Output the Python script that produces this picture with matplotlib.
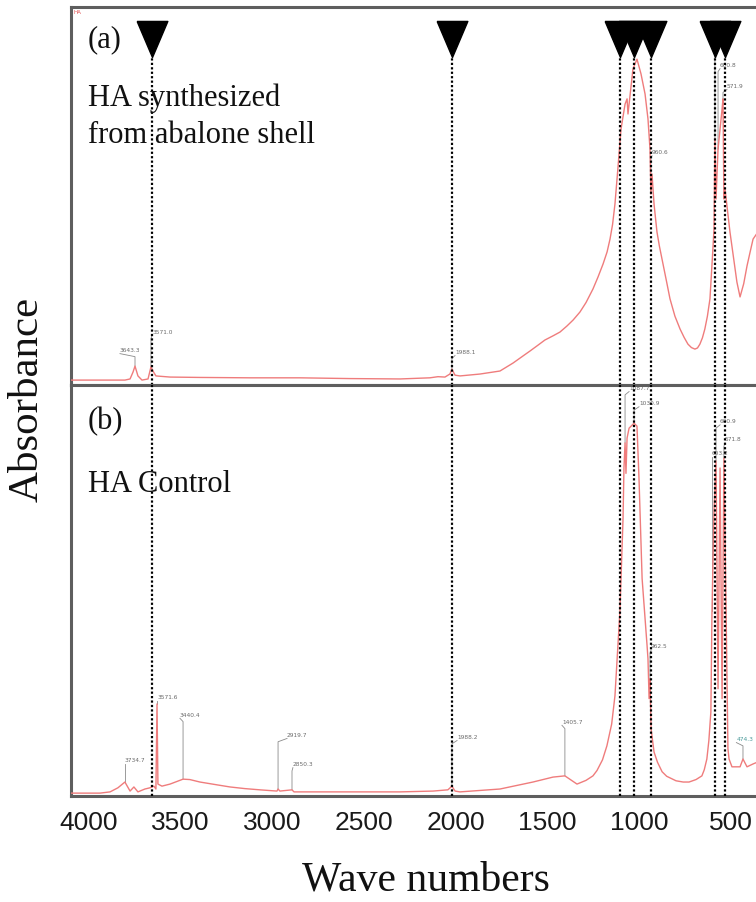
import numpy as np
import matplotlib
matplotlib.use("Agg")
import matplotlib.pyplot as plt

# spectrum (a): HA synthesized from abalone shell  (wavenumber, absorbance a.u.)
wave_a = [4098, 3940, 3804, 3776, 3760, 3749, 3733, 3711, 3678, 3662, 3651, 3635,
          3558, 3395, 3122, 2850, 2577, 2304, 2141, 2097, 2059, 2032, 2021, 2004,
          1977, 1868, 1759, 1688, 1630, 1595, 1550, 1514, 1470, 1432, 1394, 1360, 1323,
          1290, 1252, 1225, 1197, 1175, 1159, 1145, 1132, 1115, 1099, 1077, 1066, 1061,
          1055, 1034, 1012, 990, 968, 952, 941, 936, 930, 919, 903, 890, 870, 850, 832,
          805, 777, 755, 734, 715, 696, 682, 669, 655, 642, 628, 614, 598, 592, 587,
          581, 570, 548, 543, 538, 532, 505, 467, 450, 430, 412, 395, 379, 341]
abs_a = [0.013, 0.013, 0.013, 0.016, 0.034, 0.050, 0.024, 0.013, 0.016, 0.048, 0.037, 0.024,
         0.021, 0.020, 0.019, 0.019, 0.017, 0.016, 0.019, 0.022, 0.021, 0.029, 0.042, 0.026,
         0.024, 0.029, 0.037, 0.058, 0.078, 0.090, 0.106, 0.119, 0.130, 0.140, 0.156, 0.172, 0.193,
         0.218, 0.254, 0.285, 0.320, 0.352, 0.386, 0.425, 0.479, 0.579, 0.677, 0.743, 0.757, 0.717,
         0.743, 0.836, 0.862, 0.823, 0.770, 0.704, 0.624, 0.505, 0.558, 0.479, 0.405, 0.368, 0.320, 0.272, 0.228,
         0.182, 0.148, 0.126, 0.108, 0.099, 0.095, 0.098, 0.108, 0.125, 0.148, 0.182, 0.228, 0.360, 0.413, 0.651,
         0.492, 0.624, 0.730, 0.757, 0.492, 0.519, 0.405, 0.272, 0.233, 0.268, 0.315, 0.352, 0.386, 0.413]

# spectrum (b): HA control
wave_b = [4098, 3940, 3885, 3842, 3804, 3776, 3755, 3733, 3695, 3667, 3646, 3635, 3629,
          3624, 3602, 3558, 3487, 3450, 3395, 3300, 3231, 3150, 3068, 2975, 2969, 2959, 2893,
          2882, 2740, 2304, 2124, 2043, 2021, 2004, 1977, 1759, 1579, 1470, 1405, 1339, 1290,
          1252, 1230, 1200, 1176, 1150, 1132, 1105, 1088, 1083, 1077, 1072, 1066, 1055, 1028,
          1012, 1001, 984, 957, 952, 946, 941, 935, 919, 900, 875, 850, 799, 760, 728, 690,
          658, 645, 631, 620, 609, 603, 592, 581, 570, 559, 548, 538, 527, 516, 510, 494, 450,
          434, 412, 379, 341]
abs_b = [0.007, 0.007, 0.010, 0.020, 0.034, 0.012, 0.022, 0.010, 0.017, 0.020, 0.024, 0.017, 0.224,
         0.029, 0.024, 0.029, 0.041, 0.040, 0.034, 0.027, 0.022, 0.018, 0.015, 0.012, 0.017, 0.012, 0.015,
         0.010, 0.010, 0.010, 0.012, 0.015, 0.024, 0.012, 0.010, 0.017, 0.034, 0.046, 0.049, 0.029, 0.038,
         0.049, 0.062, 0.088, 0.122, 0.175, 0.244, 0.449, 0.675, 0.798, 0.859, 0.785, 0.871, 0.895, 0.907,
         0.900, 0.773, 0.529, 0.366, 0.334, 0.237, 0.285, 0.163, 0.107, 0.082, 0.059, 0.048, 0.037, 0.034,
         0.034, 0.040, 0.049, 0.064, 0.090, 0.135, 0.205, 0.449, 0.693, 0.815, 0.261, 0.798, 0.237, 0.822,
         0.480, 0.115, 0.090, 0.071, 0.071, 0.090, 0.071, 0.078, 0.085]

# marked bands (triangles + dotted guides)
marks = [3656, 2021, 1105, 1028, 936, 587, 532]

# peak picks: label, label x, label y, leader from (x, y)
picks_a = [("3643.3", 3831, 0.087, 3749, 0.050),
           ("3571.0", 3656, 0.135, 3662, 0.048),
           ("1988.1", 2004, 0.082, 2021, 0.042),
           ("960.6", 930, 0.611, 936, 0.505),
           ("603.6", 598, 0.905, 587, 0.651),
           ("600.8", 559, 0.841, 570, 0.624),
           ("571.9", 521, 0.786, 543, 0.757)]
picks_b = [("3734.7", 3804, 0.083, 3804, 0.034),
           ("3571.6", 3629, 0.235, 3629, 0.224),
           ("3440.4", 3504, 0.193, 3487, 0.041),
           ("2919.7", 2920, 0.144, 2969, 0.017),
           ("2850.3", 2888, 0.073, 2893, 0.015),
           ("1988.2", 1993, 0.139, 2021, 0.024),
           ("1405.7", 1421, 0.176, 1405, 0.049),
           ("1087.7", 1055, 0.988, 1077, 0.859),
           ("1030.9", 1001, 0.951, 1028, 0.907),
           ("962.5", 935, 0.359, 941, 0.285),
           ("603.2", 603, 0.829, 603, 0.449),
           ("600.9", 559, 0.907, 581, 0.815),
           ("571.8", 532, 0.863, 538, 0.822),
           ("474.3", 470, 0.134, 434, 0.090)]

ticks = [4000, 3500, 3000, 2500, 2000, 1500, 1000, 500]

W, H = 756, 903
fig = plt.figure(figsize=(W / 100, H / 100), dpi=100)
left = 71 / W
ax_a = fig.add_axes([left, 1 - 386 / H, 1 - left, 378 / H])
ax_b = fig.add_axes([left, 1 - 797 / H, 1 - left, 411 / H])

red = "#ef7c7c"
frame = "#5e5e5e"

for ax, wv, ab, picks in [(ax_a, wave_a, abs_a, picks_a), (ax_b, wave_b, abs_b, picks_b)]:
    ax.plot(wv, ab, color=red, lw=1.0, zorder=3)
    ax.set_xlim(4098, 363)
    ax.set_ylim(0, 1)
    ax.set_yticks([])
    for s in ["left", "top", "bottom"]:
        ax.spines[s].set_color(frame)
        ax.spines[s].set_linewidth(2.2)
    ax.spines["right"].set_visible(False)
    for lab, lx, ly, px, py in picks:
        ax.plot([px, px, lx], [py, ly - 0.012, ly - 0.004], color="#8a8a8a", lw=0.6, zorder=2)
        ax.text(lx, ly, lab, fontsize=4.2, color="#6a6a6a" if lab != "474.3" else "#4a9a9a",
                ha="left", va="bottom", family="DejaVu Sans", zorder=2)

# dotted guides through both panels
ax_a.vlines(marks, 0, 0.868, transform=ax_a.get_xaxis_transform(),
            colors="k", linestyles=(0, (1, 1)), lw=1.6, zorder=4)
ax_b.vlines(marks, 0, 1, transform=ax_b.get_xaxis_transform(),
            colors="k", linestyles=(0, (1, 1)), lw=1.6, zorder=4)

# triangles
tri = [(-0.85, 1), (0.85, 1), (0, -1), (-0.85, 1)]
ax_a.plot(marks, [0.915] * len(marks), ls="none", marker=tri, ms=26, color="k",
          transform=ax_a.get_xaxis_transform(), zorder=6, clip_on=False)

ax_a.set_xticks([])
ax_b.set_xticks(ticks)
ax_b.set_xticklabels([str(t) for t in ticks], fontsize=19, family="Liberation Sans", color="#1a1a1a")
ax_b.tick_params(axis="x", length=0, pad=10)

serif = "Liberation Serif"
fig.text(73 / W, 1 - 12 / H, "HA", fontsize=4, color="#e05050", va="center", family="DejaVu Sans")
fig.text(88 / W, 1 - 40 / H, "(a)", fontsize=22, family=serif, va="center", color="#111")
fig.text(88 / W, 1 - 106 / H, "HA synthesized", fontsize=22, family=serif, va="baseline", color="#111")
fig.text(88 / W, 1 - 143 / H, "from abalone shell", fontsize=22, family=serif, va="baseline", color="#111")
fig.text(88 / W, 1 - 422 / H, "(b)", fontsize=22, family=serif, va="center", color="#111")
fig.text(88 / W, 1 - 492 / H, "HA Control", fontsize=22, family=serif, va="baseline", color="#111")

fig.text(27 / W, 1 - 399 / H, "Absorbance", fontsize=31, family=serif, rotation=90,
         ha="center", va="center", color="#111")
fig.text(426 / W, 1 - 880 / H, "Wave numbers", fontsize=30, family=serif,
         ha="center", va="center", color="#111")

fig.savefig("out.png", dpi=100, facecolor="white")
